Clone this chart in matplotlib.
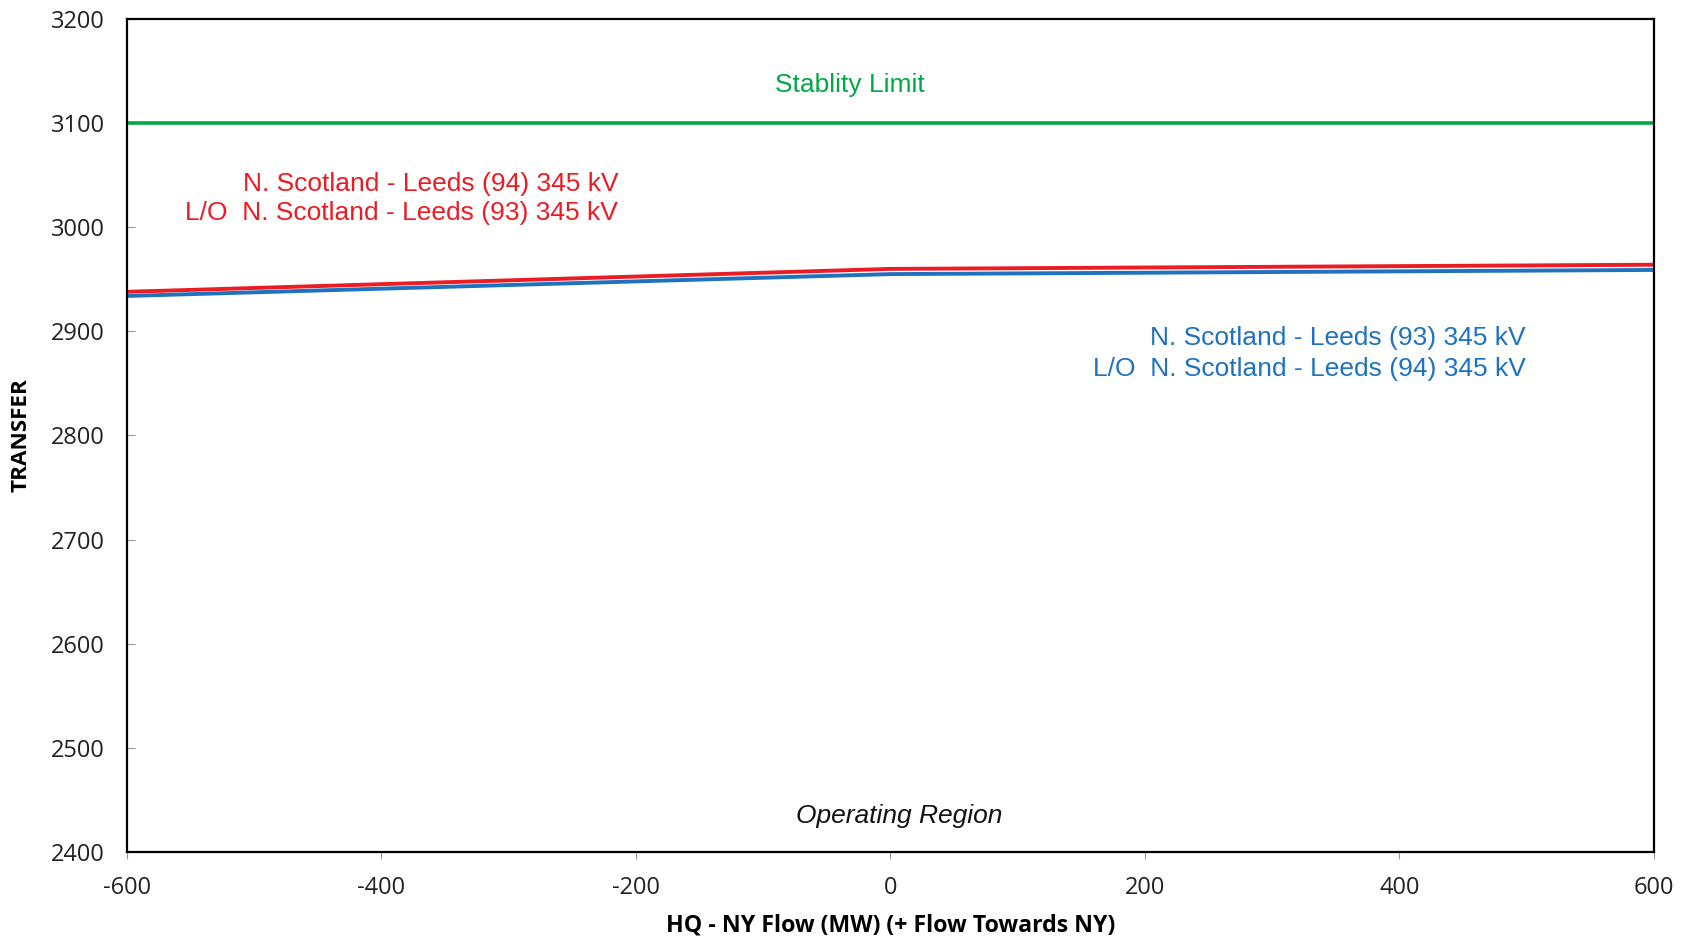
import matplotlib.pyplot as plt

plt.rcParams['axes.unicode_minus'] = False

# Values
hq_flow = [-600, 0, 600]
transfer_red = [2938, 2960, 2964]
transfer_blue = [2934, 2955, 2959]
stability_limit = 3100
x_ticks = [-600, -400, -200, 0, 200, 400, 600]
y_ticks = [2400, 2500, 2600, 2700, 2800, 2900, 3000, 3100, 3200]

red = '#ec1c24'
blue = '#1f72c0'
green = '#00a846'

fig = plt.figure(figsize=(16.9, 9.41), dpi=100)
ax = fig.add_axes([0.0751, 0.0946, 0.9036, 0.8852])

ax.axhline(stability_limit, color=green, lw=2.6)
ax.plot(hq_flow, transfer_red, color=red, lw=2.8, solid_capstyle='butt')
ax.plot(hq_flow, transfer_blue, color=blue, lw=2.8, solid_capstyle='butt')

ax.set_xlim(-600, 600)
ax.set_ylim(2400, 3200)
ax.set_xticks(x_ticks)
ax.set_yticks(y_ticks)
ax.tick_params(axis='x', direction='out', length=5, color='#999999',
               labelsize=17, pad=12)
ax.tick_params(axis='y', direction='in', length=6, color='#999999',
               labelsize=17, pad=16)
for lab in ax.get_xticklabels() + ax.get_yticklabels():
    lab.set_fontfamily('Open Sans')
    lab.set_color('#222222')

for s in ax.spines.values():
    s.set_color('black')
    s.set_linewidth(1.6)

ax.set_xlabel('HQ - NY Flow (MW) (+ Flow Towards NY)', fontsize=16.7,
              fontweight='bold', fontfamily='Open Sans', labelpad=10)
ax.set_ylabel('TRANSFER', fontsize=16.2, fontweight='bold',
              fontfamily='Open Sans', labelpad=14)

txt = dict(fontfamily='Liberation Sans', fontsize=19)
ax.text(-32, 3137, 'Stablity Limit', color=green, ha='center', va='center', **txt)
ax.text(-214, 3042, 'N. Scotland - Leeds (94) 345 kV', color=red,
        ha='right', va='center', **txt)
ax.text(-214, 3014, 'L/O  N. Scotland - Leeds (93) 345 kV', color=red,
        ha='right', va='center', **txt)
ax.text(499, 2894, 'N. Scotland - Leeds (93) 345 kV', color=blue,
        ha='right', va='center', **txt)
ax.text(499, 2864, 'L/O  N. Scotland - Leeds (94) 345 kV', color=blue,
        ha='right', va='center', **txt)
ax.text(7, 2435, 'Operating Region', color='#111111', ha='center',
        va='center', style='italic', **txt)

fig.savefig('out.png', dpi=100)
